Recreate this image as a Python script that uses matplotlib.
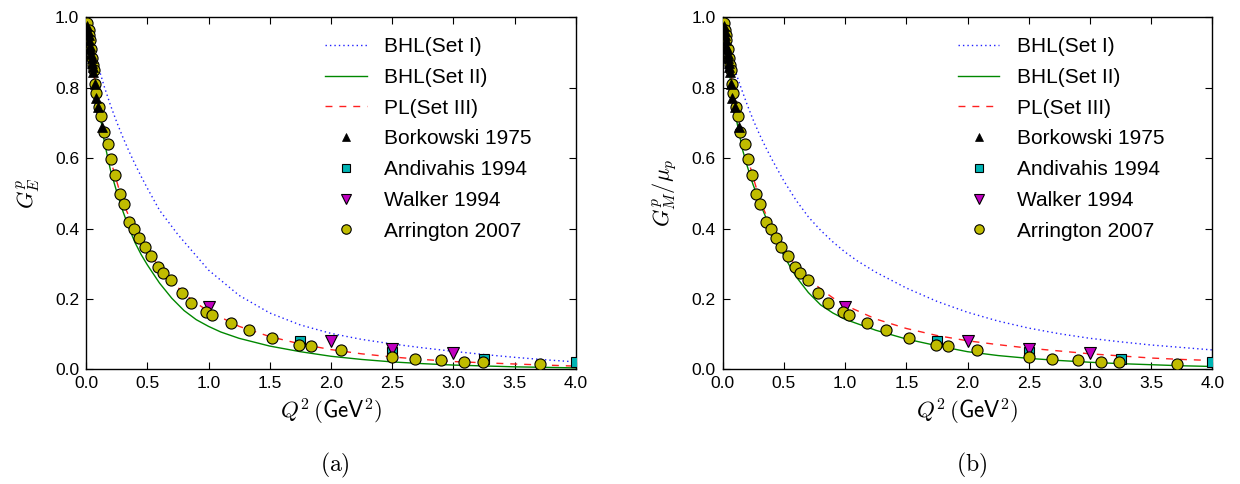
import matplotlib
matplotlib.use("Agg")
import matplotlib.pyplot as plt

plt.rcParams['font.family'] = ['Liberation Sans', 'DejaVu Sans']
plt.rcParams['mathtext.fontset'] = 'cm'

# ---- data ----
# Borkowski 1975
bork_q2 = [0.01, 0.015, 0.02, 0.025, 0.03, 0.035, 0.04, 0.045, 0.05, 0.055,
           0.06, 0.07, 0.08, 0.1, 0.13]
bork_g = [0.975, 0.96, 0.95, 0.935, 0.92, 0.91, 0.895, 0.885, 0.87, 0.86,
          0.845, 0.81, 0.77, 0.745, 0.69]

# Andivahis 1994
andi_q2 = [1.75, 2.5, 3.25, 4.0]
andi_g = [0.081, 0.048, 0.029, 0.020]

# Walker 1994
walk_q2 = [1.0, 2.0, 2.5, 3.0]
walk_g = [0.176, 0.081, 0.057, 0.047]

# Arrington 2007
arr_q2 = [0.01, 0.02, 0.025, 0.03, 0.04, 0.05, 0.06, 0.065, 0.077, 0.085,
          0.108, 0.123, 0.144, 0.179, 0.206, 0.237, 0.275, 0.308, 0.354, 0.394,
          0.433, 0.479, 0.53, 0.59, 0.628, 0.694, 0.78, 0.86, 0.98, 1.03,
          1.18, 1.33, 1.52, 1.74, 1.84, 2.08, 2.50, 2.69, 2.90, 3.09,
          3.24, 3.71]
arr_g = [0.985, 0.965, 0.95, 0.935, 0.91, 0.885, 0.865, 0.85, 0.81, 0.786,
         0.746, 0.72, 0.675, 0.639, 0.597, 0.552, 0.497, 0.470, 0.420, 0.40,
         0.372, 0.347, 0.322, 0.29, 0.274, 0.254, 0.218, 0.187, 0.163, 0.154,
         0.131, 0.112, 0.088, 0.069, 0.065, 0.054, 0.036, 0.030, 0.025, 0.022,
         0.021, 0.015]

# model curves, panel (a): G_E^p
ge_set1_q2 = [0, 0.05, 0.1, 0.15, 0.2, 0.25, 0.3, 0.35, 0.4, 0.45, 0.5, 0.6,
              0.75, 1.0, 1.25, 1.5, 1.75, 2.0, 2.25, 2.5, 2.75, 3.0, 3.25,
              3.5, 3.75, 4.0]
ge_set1 = [1.0, 0.925, 0.86, 0.802, 0.75, 0.703, 0.66, 0.62, 0.583, 0.548,
           0.515, 0.452, 0.383, 0.282, 0.210, 0.160, 0.126, 0.102, 0.085,
           0.072, 0.061, 0.051, 0.042, 0.034, 0.027, 0.021]

ge_set2_q2 = [0, 0.05, 0.1, 0.15, 0.2, 0.25, 0.3, 0.35, 0.4, 0.45, 0.5, 0.6,
              0.7, 0.8, 0.9, 1.0, 1.1, 1.25, 1.5, 1.75, 2.0, 2.25, 2.5, 2.75,
              3.0, 3.5, 4.0]
ge_set2 = [1.0, 0.87, 0.755, 0.645, 0.565, 0.505, 0.45, 0.402, 0.36, 0.326,
           0.297, 0.245, 0.202, 0.167, 0.141, 0.122, 0.106, 0.088, 0.066,
           0.050, 0.037, 0.028, 0.021, 0.016, 0.012, 0.007, 0.004]

ge_set3_q2 = [0, 0.05, 0.1, 0.15, 0.2, 0.3, 0.4, 0.5, 0.6, 0.7, 0.8, 0.9,
              1.0, 1.25, 1.5, 1.75, 2.0, 2.25, 2.5, 2.75, 3.0, 3.5, 4.0]
ge_set3 = [1.0, 0.87, 0.76, 0.67, 0.595, 0.475, 0.395, 0.338, 0.292, 0.251,
           0.215, 0.188, 0.165, 0.122, 0.093, 0.072, 0.056, 0.044, 0.035,
           0.028, 0.022, 0.015, 0.009]

# model curves, panel (b): G_M^p / mu_p
gm_set1_q2 = [0, 0.05, 0.1, 0.15, 0.2, 0.25, 0.3, 0.35, 0.4, 0.5, 0.6, 0.7,
              0.8, 0.9, 1.0, 1.1, 1.25, 1.5, 1.75, 2.0, 2.25, 2.5, 2.75, 3.0,
              3.25, 3.5, 3.75, 4.0]
gm_set1 = [1.0, 0.915, 0.85, 0.80, 0.752, 0.708, 0.668, 0.632, 0.598, 0.535,
           0.48, 0.433, 0.395, 0.362, 0.333, 0.308, 0.276, 0.231, 0.193,
           0.162, 0.137, 0.117, 0.101, 0.088, 0.078, 0.069, 0.062, 0.055]

gm_set2_q2 = [0, 0.05, 0.1, 0.163, 0.2, 0.245, 0.3, 0.35, 0.4, 0.45, 0.5,
              0.55, 0.6, 0.7, 0.8, 0.9, 1.0, 1.25, 1.5, 1.75, 2.0, 2.25, 2.5,
              2.75, 3.0, 3.25, 3.5, 3.75, 4.0]
gm_set2 = [1.0, 0.855, 0.73, 0.623, 0.578, 0.528, 0.476, 0.434, 0.395, 0.357,
           0.323, 0.292, 0.263, 0.218, 0.183, 0.16, 0.142, 0.111, 0.086,
           0.067, 0.050, 0.039, 0.031, 0.025, 0.020, 0.016, 0.013, 0.010,
           0.008]

gm_set3_q2 = [0, 0.05, 0.1, 0.15, 0.2, 0.3, 0.4, 0.5, 0.6, 0.7, 0.8, 0.9,
              1.0, 1.25, 1.5, 1.75, 2.0, 2.25, 2.5, 2.75, 3.0, 3.25, 3.5,
              3.75, 4.0]
gm_set3 = [1.0, 0.875, 0.77, 0.68, 0.605, 0.485, 0.40, 0.34, 0.295, 0.258,
           0.228, 0.203, 0.182, 0.143, 0.116, 0.096, 0.081, 0.070, 0.060,
           0.052, 0.044, 0.038, 0.032, 0.028, 0.025]

panels = [
    (ge_set1_q2, ge_set1, ge_set2_q2, ge_set2, ge_set3_q2, ge_set3,
     r'$G_E^p$', r'$\mathrm{(a)}$', 0.0694, 0.488),
    (gm_set1_q2, gm_set1, gm_set2_q2, gm_set2, gm_set3_q2, gm_set3,
     r'$G_M^p/\mu_p$', r'$\mathrm{(b)}$', 0.5828, 0.480),
]

order = ['BHL(Set I)', 'BHL(Set II)', 'PL(Set III)', 'Borkowski 1975',
         'Andivahis 1994', 'Walker 1994', 'Arrington 2007']

fig = plt.figure(figsize=(12.4, 4.84), dpi=100)

for q1, g1, q2_, g2, q3, g3, ylab, cap, left, leg_x in panels:
    ax = fig.add_axes([left, 0.237, 0.395, 0.727])

    # theory curves
    ax.plot(q1, g1, color='#2020ff', linestyle=(0, (1, 2.2)), lw=1.0,
            label='BHL(Set I)')
    ax.plot(q2_, g2, color='#008800', linestyle='-', lw=1.0,
            label='BHL(Set II)')
    ax.plot(q3, g3, color='#ff2020', linestyle=(0, (5, 5)), lw=1.0,
            label='PL(Set III)')

    # data points
    ax.plot(andi_q2, andi_g, 's', ms=7, mfc='#00b4b4', mec='black', mew=0.8,
            label='Andivahis 1994', zorder=3)
    ax.plot(walk_q2, walk_g, 'v', ms=8, mfc='#c000c0', mec='black', mew=0.8,
            label='Walker 1994', zorder=3)
    ax.plot(arr_q2, arr_g, 'o', ms=8, mfc='#c0bc00', mec='black', mew=0.8,
            label='Arrington 2007', zorder=4)
    ax.plot(bork_q2, bork_g, '^', ms=7, mfc='black', mec='black', mew=0.5,
            label='Borkowski 1975', zorder=5)

    ax.set_xlim(0, 4.0)
    ax.set_ylim(0, 1.0)
    ax.set_xticks([0, 0.5, 1.0, 1.5, 2.0, 2.5, 3.0, 3.5, 4.0])
    ax.set_yticks([0, 0.2, 0.4, 0.6, 0.8, 1.0])
    ax.xaxis.set_major_formatter(matplotlib.ticker.FormatStrFormatter('%.1f'))
    ax.yaxis.set_major_formatter(matplotlib.ticker.FormatStrFormatter('%.1f'))
    ax.tick_params(direction='in', top=True, right=True, length=5,
                   labelsize=12.5, pad=5)
    for s in ax.spines.values():
        s.set_linewidth(1.0)

    ax.set_xlabel(r'$Q^2\,(\mathsf{GeV}^2)$', fontsize=16.5, labelpad=4)
    ax.set_ylabel(ylab, fontsize=16, labelpad=9)

    handles, labels = ax.get_legend_handles_labels()
    hmap = dict(zip(labels, handles))
    ax.legend([hmap[k] for k in order], order, loc='upper left',
              bbox_to_anchor=(leg_x, 0.944), frameon=False, fontsize=15,
              handlelength=2.0, handletextpad=0.85, labelspacing=0.565,
              borderpad=0, borderaxespad=0, markerscale=0.85)

    pos = ax.get_position()
    fig.text(pos.x0 + pos.width * 0.5 + 0.003, 0.039, cap, ha='center',
             va='center', fontsize=17)

fig.savefig('out.png', dpi=100)
